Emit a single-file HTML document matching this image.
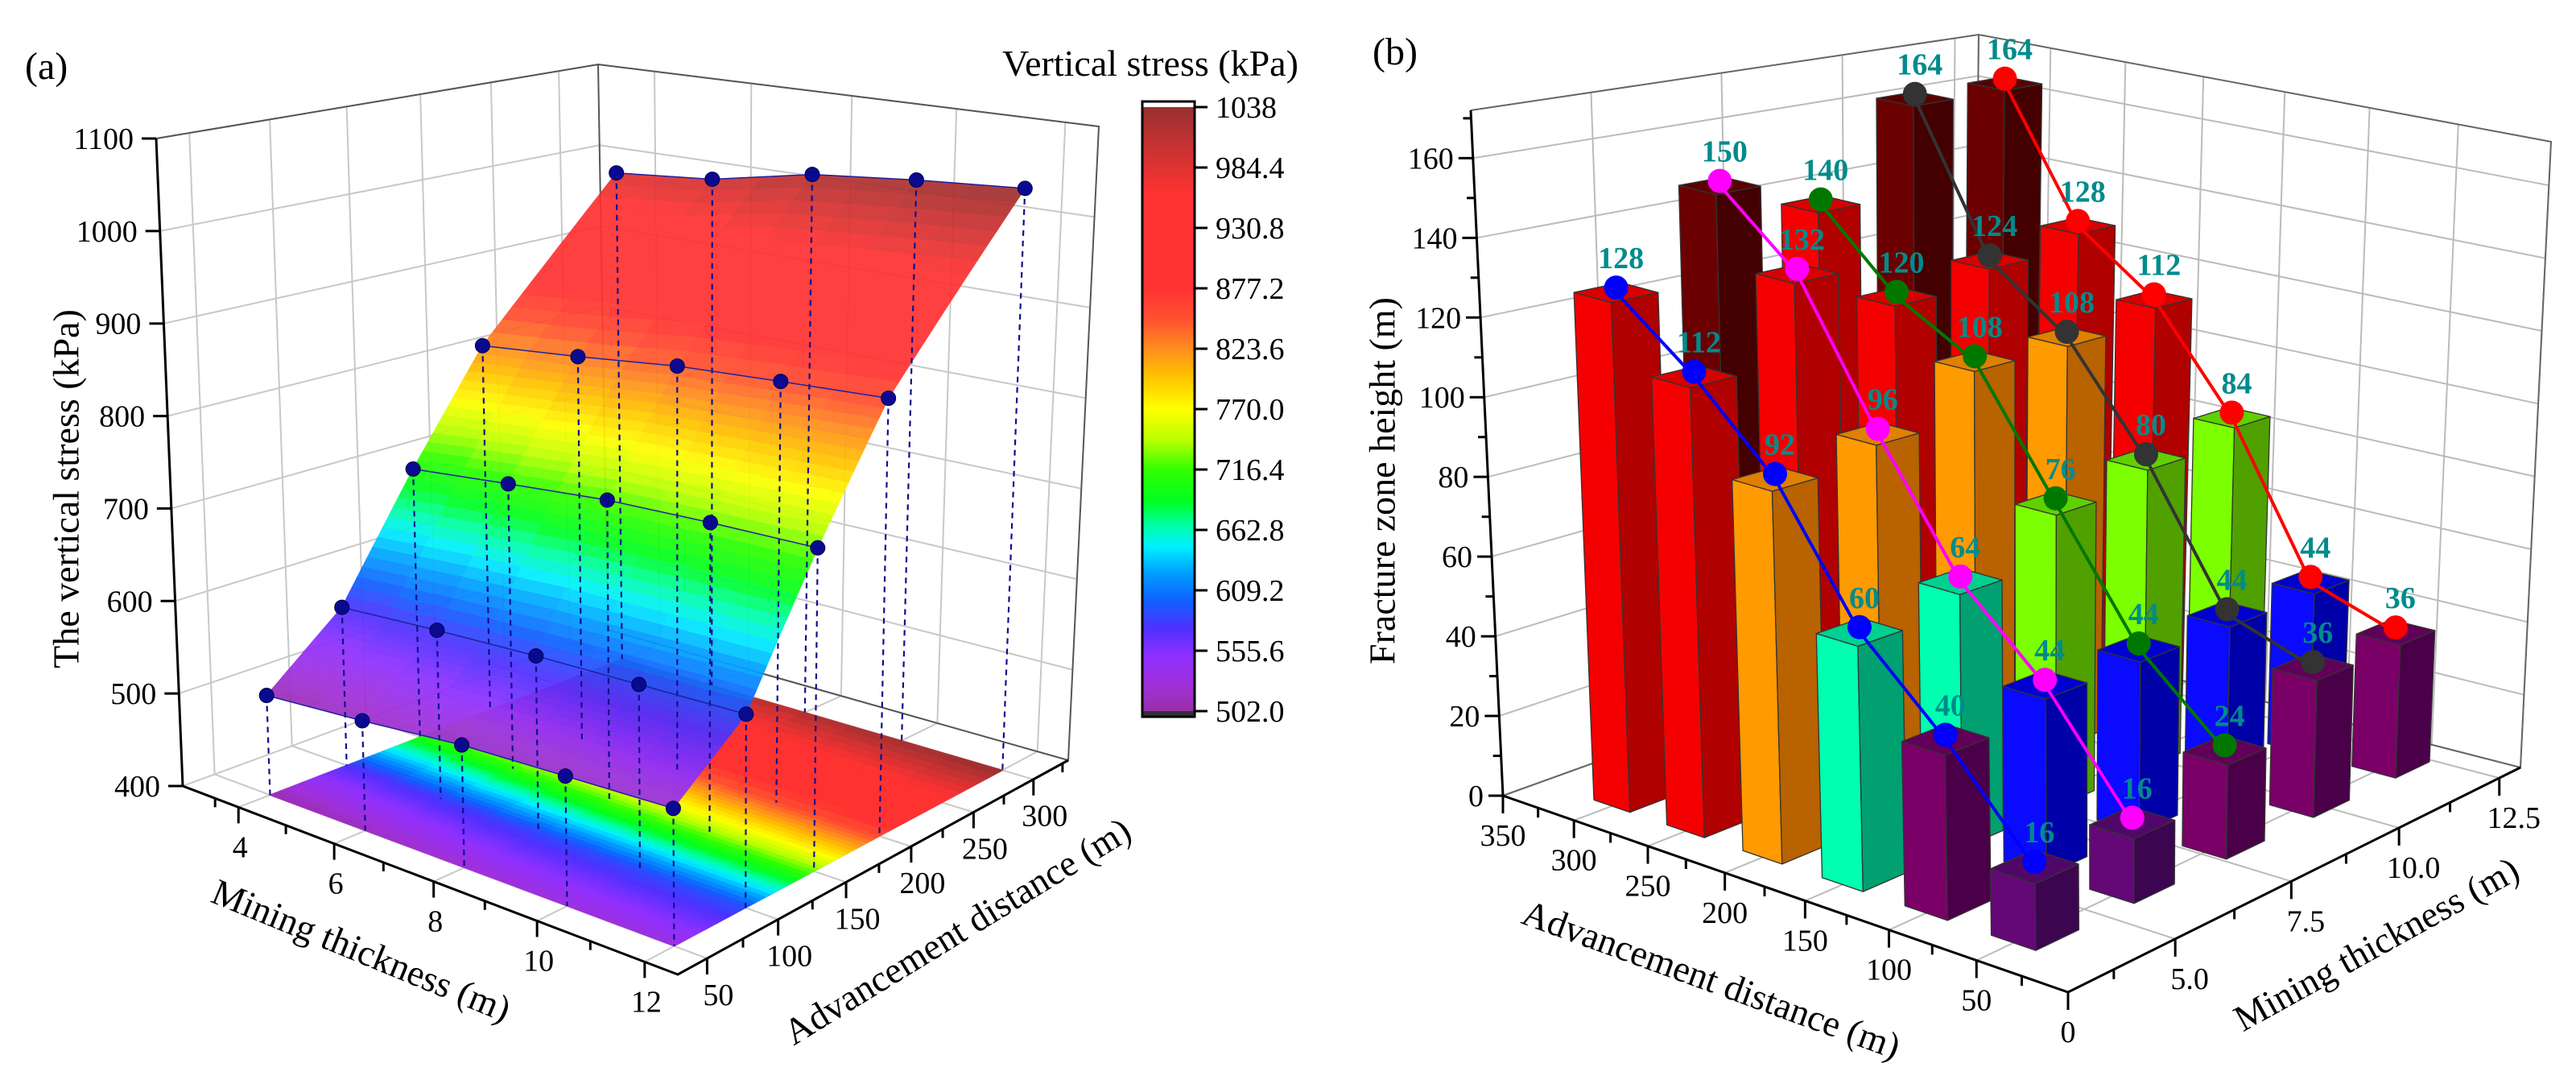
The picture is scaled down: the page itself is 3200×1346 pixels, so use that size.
<!DOCTYPE html>
<html><head><meta charset="utf-8"><style>
html,body{margin:0;padding:0;background:#fff;}
svg{display:block;font-family:"Liberation Serif",serif;}
</style></head><body>
<svg id="fig" width="3200" height="1346" viewBox="0 0 3200 1346" xmlns="http://www.w3.org/2000/svg" font-family="Liberation Serif, serif"></svg>
<script>
// ---------- Chart (a) data ----------
const A_thick=[4,6,8,10,12];
const A_adv=[50,100,150,200,300];
const A_row0=[507,515,525,529,533];
const A_row1=[574,581,586,589,592];
const A_row2=[702,713,723,727,729];
const A_row3=[820,831,844,851,857];
const A_row4=[986,996,1019,1030,1038];
const A_rows=[A_row0,A_row1,A_row2,A_row3,A_row4];
const A_zTicks=[400,500,600,700,800,900,1000,1100];
const A_tTicks=[4,6,8,10,12];
const A_aTicks=[50,100,150,200,250,300];
const A_cbTicks=["1038","984.4","930.8","877.2","823.6","770.0","716.4","662.8","609.2","555.6","502.0"];
// ---------- Chart (b) data ----------
const B_adv=[300,250,200,150,100,50];
const B_thick=[4,6,8,10,12];
const B_blue=[128,112,92,60,40,16];
const B_magenta=[150,132,96,64,44,16];
const B_green=[140,120,108,76,44,24];
const B_gray=[164,124,108,80,44,36];
const B_red=[164,128,112,84,44,36];
const B_series=[B_blue,B_magenta,B_green,B_gray,B_red];
const B_lineColors=["#0000ff","#ff00ff","#007800","#333333","#ff0000"];
const B_zTicks=[0,20,40,60,80,100,120,140,160];
const B_aTicks=[0,50,100,150,200,250,300,350];
const B_tTicks=[5,7.5,10,12.5];

const NS="http://www.w3.org/2000/svg";
const svg=document.getElementById("fig");
function mk(tag,attrs,parent){const e=document.createElementNS(NS,tag);for(const k in attrs)e.setAttribute(k,attrs[k]);(parent||svg).appendChild(e);return e;}
function grp(name){const g=mk("g",{});return g;}

function persp(x,b){return x/(x+b*(1-x));}
function makeProj(c,rng){
  return function(t,a,z){
    const u=persp((t-rng.t0)/(rng.t1-rng.t0),rng.bt);
    const v=persp((a-rng.a0)/(rng.a1-rng.a0),rng.ba);
    const w=(z-rng.z0)/(rng.z1-rng.z0);
    const bl=(p,q,r,s)=>[p[0]+u*(q[0]-p[0])+v*(r[0]-p[0])+u*v*(s[0]-q[0]-r[0]+p[0]),p[1]+u*(q[1]-p[1])+v*(r[1]-p[1])+u*v*(s[1]-q[1]-r[1]+p[1])];
    const f=bl(c.o,c.u,c.v,c.uv), g=bl(c.o2,c.u2,c.v2,c.uv2);
    return [f[0]+w*(g[0]-f[0]),f[1]+w*(g[1]-f[1])];
  };
}
function pts(arr){return arr.map(p=>p[0].toFixed(1)+","+p[1].toFixed(1)).join(" ");}
function hex(c){return [parseInt(c.substr(1,2),16),parseInt(c.substr(3,2),16),parseInt(c.substr(5,2),16)];}

// ================= Chart (a) =================
const RA={t0:2.8,t1:12.6,bt:1.1,a0:30,a1:330,ba:0.88,z0:400,z1:1100};
const CA={o:[227,976],u:[842,1210],v:[755,782],uv:[1327,944],o2:[194,172],u2:[835,293],v2:[743,80],uv2:[1365,157]};
const PA=makeProj(CA,RA);
const cmapStops=[[502,"#9a2fa8"],[525,"#a030d8"],[550,"#9030ff"],[575,"#5030ff"],[600,"#1060ff"],[625,"#00a0ff"],[648,"#00f0ff"],[668,"#00ffa0"],[688,"#00ff20"],[716,"#30ff00"],[742,"#b8ff00"],[770,"#ffff00"],[800,"#ffc000"],[825,"#ff8a20"],[850,"#ff5030"],[877,"#ff3232"],[960,"#ff3232"],[990,"#d83232"],[1038,"#983030"]];
function cmap(z){
  if(z<=cmapStops[0][0])return cmapStops[0][1];
  for(let i=1;i<cmapStops.length;i++){if(z<=cmapStops[i][0]){const a=cmapStops[i-1],b=cmapStops[i];const f=(z-a[0])/(b[0]-a[0]);const ca=hex(a[1]),cb=hex(b[1]);return "rgb("+ca.map((x,k)=>Math.round(x+f*(cb[k]-x))).join(",")+")";}}
  return cmapStops[cmapStops.length-1][1];
}
const gA=grp("chart-a");
const gAw=mk("g",{},gA);
A_zTicks.forEach(z=>{
  mk("polyline",{points:pts([PA(RA.t0,RA.a0,z),PA(RA.t0,RA.a1,z),PA(RA.t1,RA.a1,z)]),fill:"none",stroke:"#c8c8c8","stroke-width":2},gAw);
});
A_aTicks.forEach(a=>{
  mk("line",{x1:PA(RA.t0,a,400)[0],y1:PA(RA.t0,a,400)[1],x2:PA(RA.t0,a,1100)[0],y2:PA(RA.t0,a,1100)[1],stroke:"#c8c8c8","stroke-width":2},gAw);
  mk("line",{x1:PA(RA.t0,a,400)[0],y1:PA(RA.t0,a,400)[1],x2:PA(RA.t1,a,400)[0],y2:PA(RA.t1,a,400)[1],stroke:"#c8c8c8","stroke-width":2},gAw);
});
A_tTicks.forEach(t=>{
  mk("line",{x1:PA(t,RA.a1,400)[0],y1:PA(t,RA.a1,400)[1],x2:PA(t,RA.a1,1100)[0],y2:PA(t,RA.a1,1100)[1],stroke:"#c8c8c8","stroke-width":2},gAw);
  mk("line",{x1:PA(t,RA.a0,400)[0],y1:PA(t,RA.a0,400)[1],x2:PA(t,RA.a1,400)[0],y2:PA(t,RA.a1,400)[1],stroke:"#c8c8c8","stroke-width":2},gAw);
});
const boxA=mk("polyline",{points:pts([PA(RA.t0,RA.a0,1100),PA(RA.t0,RA.a1,1100),PA(RA.t1,RA.a1,1100),PA(RA.t1,RA.a1,400),PA(RA.t0,RA.a1,400),PA(RA.t0,RA.a1,1100)]),fill:"none",stroke:"#555","stroke-width":2},gA);



function zAt(i,fi,j,fj){
  const r0=A_rows[i],r1=A_rows[Math.min(i+1,4)];
  const z00=r0[j],z01=r0[Math.min(j+1,4)],z10=r1[j],z11=r1[Math.min(j+1,4)];
  return (1-fi)*((1-fj)*z00+fj*z01)+fi*((1-fj)*z10+fj*z11);
}
const SUB=14,SUBT=2;
function drawSurf(parent,floor){
  for(let i=3;i>=0;i--){for(let k=SUB-1;k>=0;k--){for(let j=0;j<4;j++){for(let m=0;m<SUBT;m++){
    const fi0=k/SUB,fi1=(k+1)/SUB,fj0=m/SUBT,fj1=(m+1)/SUBT;
    const a0=A_adv[i]+fi0*(A_adv[i+1]-A_adv[i]),a1=A_adv[i]+fi1*(A_adv[i+1]-A_adv[i]);
    const t0=A_thick[j]+fj0*(A_thick[j+1]-A_thick[j]),t1=A_thick[j]+fj1*(A_thick[j+1]-A_thick[j]);
    const z00=zAt(i,fi0,j,fj0),z01=zAt(i,fi0,j,fj1),z10=zAt(i,fi1,j,fj0),z11=zAt(i,fi1,j,fj1);
    const zc=(z00+z01+z10+z11)/4;const col=cmap(zc);
    const P=floor?[PA(t0,a0,400),PA(t1,a0,400),PA(t1,a1,400),PA(t0,a1,400)]:[PA(t0,a0,z00),PA(t1,a0,z01),PA(t1,a1,z11),PA(t0,a1,z10)];
    mk("polygon",{points:pts(P),fill:col,stroke:col,"stroke-width":1.2},parent);
  }}}}
}
const gFloor=mk("g",{},gA);
drawSurf(gFloor,true);
const gSurf=mk("g",{opacity:0.93},gA);
drawSurf(gSurf,false);
const gDrop=mk("g",{},gA);
const gDots=mk("g",{},gA);
A_rows.forEach((row,i)=>{
  const P=row.map((z,j)=>PA(A_thick[j],A_adv[i],z));
  row.forEach((z,j)=>{const p=P[j],q=PA(A_thick[j],A_adv[i],400);
    mk("line",{x1:p[0],y1:p[1],x2:q[0],y2:q[1],stroke:"#10108a","stroke-width":2.2,"stroke-dasharray":"7,6"},gDrop);});
  const pl=mk("polyline",{points:pts(P),fill:"none",stroke:"#2020a0","stroke-width":1.5},gDots);
  
  
  P.forEach(p=>{const c=mk("circle",{cx:p[0],cy:p[1],r:9,fill:"#0a0a90",stroke:"#000050","stroke-width":1},gDots);
    
    });
});
const gAx=mk("g",{},gA);
{const p=PA(RA.t0,RA.a0,400),q=PA(RA.t0,RA.a0,1100);mk("line",{x1:p[0],y1:p[1],x2:q[0],y2:q[1],stroke:"#000","stroke-width":3},gAx);
 const r=PA(RA.t1,RA.a0,400),s=PA(RA.t1,RA.a1,400);mk("polyline",{points:pts([p,r,s]),fill:"none",stroke:"#000","stroke-width":3},gAx);}
A_zTicks.forEach(z=>{const p=PA(RA.t0,RA.a0,z);mk("line",{x1:p[0]-18,y1:p[1],x2:p[0],y2:p[1],stroke:"#000","stroke-width":3},gAx);
  const tx=mk("text",{x:p[0]-28,y:p[1]+13,"text-anchor":"end","font-size":38},gAx);tx.textContent=z;
  });
[3.5,4,5,6,7,8,9,10,11,12].forEach(t=>{const p=PA(t,RA.a0,400);const maj=A_tTicks.includes(t);mk("line",{x1:p[0],y1:p[1],x2:p[0],y2:p[1]+(maj?20:11),stroke:"#000","stroke-width":3},gAx);});
A_tTicks.forEach(t=>{const p=PA(t,RA.a0,400);const tx=mk("text",{x:p[0]+2,y:p[1]+62,"text-anchor":"middle","font-size":38},gAx);tx.textContent=t;
  });
[50,75,100,125,150,175,200,225,250,275,300,325].forEach(a=>{const p=PA(RA.t1,a,400);const maj=A_aTicks.includes(a);mk("line",{x1:p[0],y1:p[1],x2:p[0],y2:p[1]+(maj?20:11),stroke:"#000","stroke-width":3},gAx);});
A_aTicks.forEach(a=>{const p=PA(RA.t1,a,400);const tx=mk("text",{x:p[0]+14,y:p[1]+58,"text-anchor":"middle","font-size":38},gAx);tx.textContent=a;
  });
</script>
<script>
(function(){
const g=document.createElementNS(NS,"g");svg.appendChild(g);

let t=mk("text",{x:31,y:98,"font-size":48},g);t.textContent="(a)";
t=mk("text",{x:82,y:607,"font-size":46,"text-anchor":"middle","dominant-baseline":"central",transform:"rotate(-90 82 607)"},g);t.textContent="The vertical stress (kPa)";

t=mk("text",{x:449,y:1180,"font-size":46,"text-anchor":"middle","dominant-baseline":"central",transform:"rotate(22.3 449 1180)"},g);t.textContent="Mining thickness (m)";

t=mk("text",{x:1189,y:1156,"font-size":46,"text-anchor":"middle","dominant-baseline":"central",transform:"rotate(-31.5 1189 1156)"},g);t.textContent="Advancement distance (m)";

t=mk("text",{x:1245,y:94,"font-size":46},g);t.textContent="Vertical stress (kPa)";

const defs=mk("defs",{});const lg=mk("linearGradient",{id:"cbg",x1:0,y1:1,x2:0,y2:0},defs);
cmapStops.forEach(s=>{mk("stop",{offset:((s[0]-502)/(1038-502)).toFixed(4),"stop-color":s[1]},lg);});
const cb=mk("g",{},g);
mk("rect",{x:1419,y:126,width:65,height:764,fill:"#fff"},cb);
mk("rect",{x:1419,y:133,width:65,height:750,fill:"url(#cbg)"},cb);
mk("rect",{x:1419,y:883,width:65,height:7,fill:"#333"},cb);
mk("rect",{x:1419,y:126,width:65,height:764,fill:"none",stroke:"#000","stroke-width":3},cb);
A_cbTicks.forEach((s,i)=>{const y=133+i*75;mk("line",{x1:1484,y1:y,x2:1500,y2:y,stroke:"#000","stroke-width":3},cb);
  const tx=mk("text",{x:1510,y:y+13,"font-size":38},cb);tx.textContent=s;});
})();
</script>
<script>
// ================= Chart (b) =================
const RB={t0:2.85,t1:13.05,bt:0.86,a0:0,a1:350,ba:0.862,z0:0,z1:172};
const CB={o:[2569,1232],u:[3131,953],v:[1867,988],uv:[2450,778],o2:[2560,324],u2:[3169,176],v2:[1827,137],uv2:[2458,43]};
const PB=makeProj(CB,RB);
const gB=grp("chart-b");
const gBw=mk("g",{},gB);
B_zTicks.forEach(z=>{mk("polyline",{points:pts([PB(RB.t0,RB.a1,z),PB(RB.t1,RB.a1,z),PB(RB.t1,RB.a0,z)]),fill:"none",stroke:"#bbb","stroke-width":2},gBw);});
B_aTicks.forEach(a=>{
  mk("polyline",{points:pts([PB(RB.t0,a,0),PB(RB.t1,a,0),PB(RB.t1,a,172)]),fill:"none",stroke:"#bbb","stroke-width":2},gBw);});
B_tTicks.forEach(t=>{
  mk("polyline",{points:pts([PB(t,RB.a0,0),PB(t,RB.a1,0),PB(t,RB.a1,172)]),fill:"none",stroke:"#bbb","stroke-width":2},gBw);});
const boxB=mk("polyline",{points:pts([PB(RB.t0,RB.a1,172),PB(RB.t1,RB.a1,172),PB(RB.t1,RB.a0,172),PB(RB.t1,RB.a0,0),PB(RB.t1,RB.a1,0),PB(RB.t0,RB.a1,0)]),fill:"none",stroke:"#666","stroke-width":2},gB);


mk("line",{x1:PB(RB.t1,RB.a1,0)[0],y1:PB(RB.t1,RB.a1,0)[1],x2:PB(RB.t1,RB.a1,172)[0],y2:PB(RB.t1,RB.a1,172)[1],stroke:"#666","stroke-width":2},gB);

function barCols(v){
  if(v>=145)return["#6b0000","#440000","#5a0000"];
  if(v>=110)return["#f40000","#b00000","#d80000"];
  if(v>=90)return["#ff9a00","#b86200","#e08000"];
  if(v>=70)return["#7cff00","#50a000","#60d000"];
  if(v>=50)return["#00ffb0","#00a070","#00d090"];
  if(v>40)return["#0a0aff","#0000a8","#0000d0"];
  if(v>20)return["#7a0068","#4a0048","#600058"];
  return["#640878","#3c0550","#500868"];
}
const HT=0.43,HA=12.5;
const gBars=mk("g",{},gB);
const bars=[];
B_series.forEach((s,si)=>s.forEach((v,ai)=>bars.push({t:B_thick[si],a:B_adv[ai],v:v})));
bars.sort((p,q)=>((q.a/350)+(q.t/13))-((p.a/350)+(p.t/13)));
bars.forEach(b=>{
  const c=barCols(b.v);const t0=b.t-HT,t1=b.t+HT,a0=b.a-HA,a1=b.a+HA;
  const g=mk("g",{stroke:"#333","stroke-width":1.3,"stroke-linejoin":"round"},gBars);
  
  
  mk("polygon",{points:pts([PB(t0,a0,0),PB(t0,a1,0),PB(t0,a1,b.v),PB(t0,a0,b.v)]),fill:c[0]},g);
  mk("polygon",{points:pts([PB(t0,a0,0),PB(t1,a0,0),PB(t1,a0,b.v),PB(t0,a0,b.v)]),fill:c[1]},g);
  mk("polygon",{points:pts([PB(t0,a0,b.v),PB(t1,a0,b.v),PB(t1,a1,b.v),PB(t0,a1,b.v)]),fill:c[2]},g);
});
const gL=mk("g",{},gB);
B_series.forEach((s,si)=>{
  const P=s.map((v,ai)=>PB(B_thick[si],B_adv[ai],v));
  const pl=mk("polyline",{points:pts(P),fill:"none",stroke:B_lineColors[si],"stroke-width":4},gL);
  
  
  P.forEach((p,ai)=>{const c=mk("circle",{cx:p[0],cy:p[1]-6,r:15,fill:B_lineColors[si]},gL);
    
    
    const tx=mk("text",{x:p[0]+6,y:p[1]-30,"text-anchor":"middle","font-size":38,"font-weight":"bold",fill:"#008b8b"},gL);
    tx.textContent=s[ai];
    
    });
});
const gBx=mk("g",{},gB);
{const p=PB(RB.t0,RB.a1,0),q=PB(RB.t0,RB.a1,172),o=PB(RB.t0,RB.a0,0),r=PB(RB.t1,RB.a0,0);
 mk("line",{x1:p[0],y1:p[1],x2:q[0],y2:q[1],stroke:"#000","stroke-width":3},gBx);
 mk("polyline",{points:pts([p,o,r]),fill:"none",stroke:"#000","stroke-width":3},gBx);}
for(let z=0;z<=170;z+=10){const p=PB(RB.t0,RB.a1,z);const maj=z%20==0;mk("line",{x1:p[0]-(maj?18:10),y1:p[1],x2:p[0],y2:p[1],stroke:"#000","stroke-width":3},gBx);}
B_zTicks.forEach(z=>{const p=PB(RB.t0,RB.a1,z);const tx=mk("text",{x:p[0]-24,y:p[1]+13,"text-anchor":"end","font-size":38},gBx);tx.textContent=z;
  });
for(let a=0;a<=350;a+=25){const p=PB(RB.t0,a,0);const maj=a%50==0;mk("line",{x1:p[0],y1:p[1],x2:p[0],y2:p[1]+(maj?22:12),stroke:"#000","stroke-width":3},gBx);}
B_aTicks.forEach(a=>{const p=PB(RB.t0,a,0);const tx=mk("text",{x:p[0],y:p[1]+62,"text-anchor":"middle","font-size":38},gBx);tx.textContent=a;
  });
for(let t=3.75;t<=12.6;t+=1.25){const p=PB(t,RB.a0,0);const maj=Math.abs((t/2.5)-Math.round(t/2.5))<0.01;mk("line",{x1:p[0],y1:p[1],x2:p[0],y2:p[1]+(maj?22:12),stroke:"#000","stroke-width":3},gBx);}
B_tTicks.forEach(t=>{const p=PB(t,RB.a0,0);const tx=mk("text",{x:p[0]+18,y:p[1]+62,"text-anchor":"middle","font-size":38},gBx);tx.textContent=t.toFixed(1);
  });
let tb=mk("text",{x:1705,y:80,"font-size":48},gB);tb.textContent="(b)";
tb=mk("text",{x:1717,y:597,"font-size":46,"text-anchor":"middle","dominant-baseline":"central",transform:"rotate(-90 1717 597)"},gB);tb.textContent="Fracture zone height (m)";

tb=mk("text",{x:2126,y:1216,"font-size":46,"text-anchor":"middle","dominant-baseline":"central",transform:"rotate(20 2126 1216)"},gB);tb.textContent="Advancement distance (m)";

tb=mk("text",{x:2952,y:1172,"font-size":46,"text-anchor":"middle","dominant-baseline":"central",transform:"rotate(-29 2952 1172)"},gB);tb.textContent="Mining thickness (m)";

</script>
</body></html>
